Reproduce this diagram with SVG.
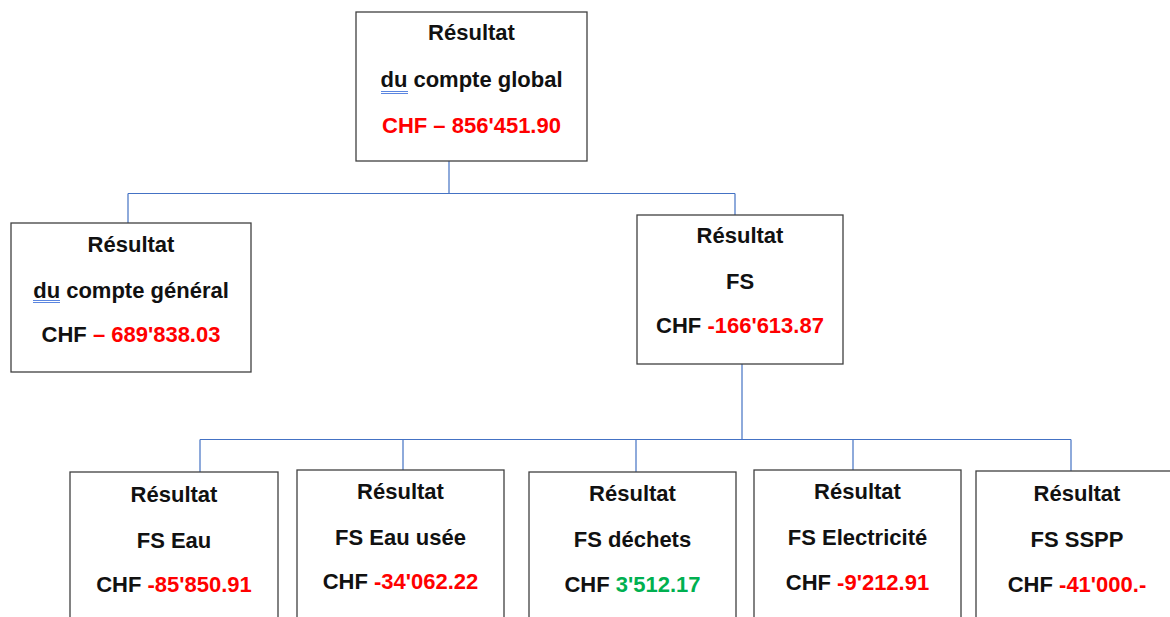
<svg xmlns="http://www.w3.org/2000/svg" width="1170" height="617" viewBox="0 0 1170 617">
<style>
.box{fill:#fff;stroke:#404040;stroke-width:1.3}
.t{font-family:"Liberation Sans",Arial,sans-serif;font-weight:bold;font-size:22px;fill:#111;text-anchor:middle}
.r{fill:#ff0000}
.g{fill:#00b050}
.c{fill:none;stroke:#4472c4;stroke-width:1.2}
.ul{stroke:#5b86e0;stroke-width:1}
</style>
<rect width="1170" height="617" fill="#fff"/>
<g id="connectors">
<path class="c" d="M449,161V193.5M128,193.5H735M128,193.5V223M735,193.5V215"/>
<path class="c" d="M742,364V439.5M200,439.5H1071M200,439.5V472M403,439.5V470M636,439.5V472M853,439.5V470M1071,439.5V471"/>
</g>
<g id="global">
<rect class="box" x="356" y="12" width="231" height="149"/>
<text class="t" x="471.5" y="40">Résultat</text>
<text class="t" x="471.5" y="87">du compte global</text>
<line class="ul" x1="381" y1="91.5" x2="408" y2="91.5"/><line class="ul" x1="381" y1="93.5" x2="408" y2="93.5"/>
<text class="t r" x="471.5" y="133">CHF – 856'451.90</text>
</g>
<g id="general">
<rect class="box" x="11" y="223" width="240" height="149"/>
<text class="t" x="131" y="252">Résultat</text>
<text class="t" x="131" y="298">du compte général</text>
<line class="ul" x1="33" y1="300.5" x2="60" y2="300.5"/><line class="ul" x1="33" y1="302.5" x2="60" y2="302.5"/>
<text class="t" x="131" y="342">CHF <tspan class="r">– 689'838.03</tspan></text>
</g>
<g id="fs">
<rect class="box" x="637" y="215" width="206" height="149"/>
<text class="t" x="740" y="243">Résultat</text>
<text class="t" x="740" y="289">FS</text>
<text class="t" x="740" y="333">CHF <tspan class="r">-166'613.87</tspan></text>
</g>
<g id="fs-eau">
<rect class="box" x="70" y="472" width="208" height="160"/>
<text class="t" x="174" y="502">Résultat</text>
<text class="t" x="174" y="548">FS Eau</text>
<text class="t" x="174" y="592">CHF <tspan class="r">-85'850.91</tspan></text>
</g>
<g id="fs-eau-usee">
<rect class="box" x="297" y="470" width="207" height="160"/>
<text class="t" x="400.5" y="499">Résultat</text>
<text class="t" x="400.5" y="545">FS Eau usée</text>
<text class="t" x="400.5" y="589">CHF <tspan class="r">-34'062.22</tspan></text>
</g>
<g id="fs-dechets">
<rect class="box" x="529" y="472" width="207" height="160"/>
<text class="t" x="632.5" y="501">Résultat</text>
<text class="t" x="632.5" y="547">FS déchets</text>
<text class="t" x="632.5" y="592">CHF <tspan class="g">3'512.17</tspan></text>
</g>
<g id="fs-electricite">
<rect class="box" x="754" y="470" width="207" height="160"/>
<text class="t" x="857.5" y="499">Résultat</text>
<text class="t" x="857.5" y="545">FS Electricité</text>
<text class="t" x="857.5" y="590">CHF <tspan class="r">-9'212.91</tspan></text>
</g>
<g id="fs-sspp">
<rect class="box" x="976" y="471" width="220" height="160"/>
<text class="t" x="1077" y="501">Résultat</text>
<text class="t" x="1077" y="547">FS SSPP</text>
<text class="t" x="1077" y="592">CHF <tspan class="r">-41'000.-</tspan></text>
</g>
</svg>
